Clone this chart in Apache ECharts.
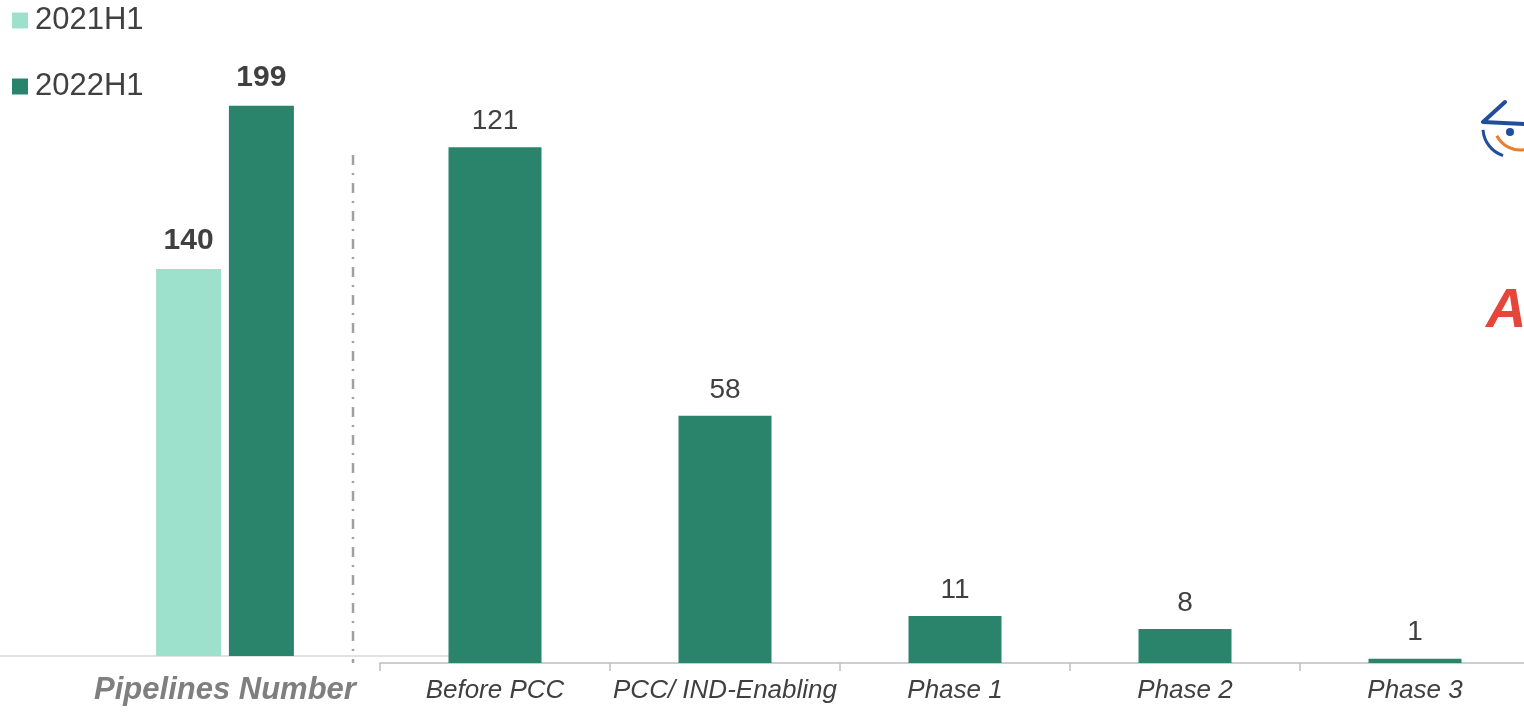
<!DOCTYPE html>
<html>
<head>
<meta charset="utf-8">
<script src="https://cdn.jsdelivr.net/npm/echarts@6/dist/echarts.min.js"></script>
<style>
  html, body { margin: 0; padding: 0; background: #fff; }
  #chart { width: 1524px; height: 713px; }
</style>
</head>
<body>
<div id="chart"></div>
<script>
// left block: total pipelines per half-year
const totalCategories = ['Pipelines Number'];
const total2021H1 = [140];
const total2022H1 = [199];

// right block: 2022H1 pipelines by stage
const stageCategories = ['Before PCC', 'PCC/ IND-Enabling', 'Phase 1', 'Phase 2', 'Phase 3'];
const stageValues = [121, 58, 11, 8, 1];

const lightGreen = '#9de0cc';
const darkGreen = '#2a846c';
const textColor = '#404040';
const font = 'Liberation Sans, Arial, sans-serif';

const chart = echarts.init(document.getElementById('chart'));

const option = {
  backgroundColor: '#fff',
  animation: false,
  textStyle: { fontFamily: font },
  legend: {
    orient: 'vertical',
    left: 12,
    top: 5,
    padding: 0,
    itemWidth: 16,
    itemHeight: 16,
    itemGap: 35,
    icon: 'rect',
    data: ['2021H1', '2022H1'],
    textStyle: { color: textColor, fontSize: 31, fontFamily: font, padding: [0, 0, 0, 2] }
  },
  grid: [
    { left: 0, width: 450, top: 103, bottom: 57, outerBoundsMode: 'none' },
    { left: 380, width: 1150, top: 109, bottom: 50, outerBoundsMode: 'none' }
  ],
  xAxis: [
    {
      type: 'category',
      gridIndex: 0,
      data: totalCategories,
      axisLine: { lineStyle: { color: '#d9d9d9', width: 1.5 } },
      axisTick: { show: false },
      axisLabel: {
        interval: 0,
        margin: 19,
        fontSize: 31,
        fontWeight: 'bold',
        fontStyle: 'italic',
        color: '#7f7f7f',
        fontFamily: font
      }
    },
    {
      type: 'category',
      gridIndex: 1,
      data: stageCategories,
      axisLine: { lineStyle: { color: '#bfbfbf', width: 1.5 } },
      axisTick: { show: true, interval: 0, length: 8, lineStyle: { color: '#bfbfbf', width: 1.5 } },
      axisLabel: {
        interval: 0,
        margin: 15,
        fontSize: 26,
        fontStyle: 'italic',
        color: textColor,
        fontFamily: font
      }
    }
  ],
  yAxis: [
    { type: 'value', gridIndex: 0, min: 0, max: 200, show: false },
    { type: 'value', gridIndex: 1, min: 0, max: 130, show: false }
  ],
  series: [
    {
      name: '2021H1',
      type: 'bar',
      xAxisIndex: 0,
      yAxisIndex: 0,
      data: total2021H1,
      barWidth: 65,
      barGap: '12%',
      itemStyle: { color: lightGreen },
      label: {
        show: true,
        position: 'top',
        distance: 13,
        fontSize: 30,
        fontWeight: 'bold',
        color: textColor,
        fontFamily: font
      }
    },
    {
      name: '2022H1',
      type: 'bar',
      xAxisIndex: 0,
      yAxisIndex: 0,
      data: total2022H1,
      barWidth: 65,
      barGap: '12%',
      itemStyle: { color: darkGreen },
      label: {
        show: true,
        position: 'top',
        distance: 13,
        fontSize: 30,
        fontWeight: 'bold',
        color: textColor,
        fontFamily: font
      }
    },
    {
      name: 'Stage',
      type: 'bar',
      xAxisIndex: 1,
      yAxisIndex: 1,
      data: stageValues,
      barWidth: 93,
      itemStyle: { color: darkGreen },
      label: {
        show: true,
        position: 'top',
        distance: 12,
        fontSize: 28,
        color: textColor,
        fontFamily: font
      }
    }
  ],
  graphic: [
    {
      type: 'line',
      shape: { x1: 353, y1: 155, x2: 353, y2: 663 },
      style: { stroke: '#a0a0a0', lineWidth: 2.5, lineDash: [10, 8, 2, 8] }
    },
    // partial logos cut off at the right edge
    {
      type: 'text',
      left: 1486,
      top: 284,
      style: {
        text: 'A',
        font: 'italic bold 56px ' + font,
        fill: '#e5463a'
      }
    },
    {
      type: 'polyline',
      shape: { points: [[1505, 102], [1483, 122], [1524, 124]] },
      style: { stroke: '#1f4e9c', lineWidth: 4, fill: null, lineCap: 'round', lineJoin: 'round' }
    },
    {
      type: 'arc',
      shape: { cx: 1512, cy: 128, r: 29, startAngle: Math.PI * 0.6, endAngle: Math.PI * 0.98 },
      style: { stroke: '#1f4e9c', lineWidth: 3, fill: null }
    },
    {
      type: 'arc',
      shape: { cx: 1520, cy: 124, r: 26, startAngle: Math.PI * 0.15, endAngle: Math.PI * 0.85 },
      style: { stroke: '#e97f2c', lineWidth: 3, fill: null }
    },
    {
      type: 'circle',
      shape: { cx: 1510, cy: 132, r: 4 },
      style: { fill: '#1f4e9c' }
    }
  ]
};

chart.setOption(option);
</script>
</body>
</html>
